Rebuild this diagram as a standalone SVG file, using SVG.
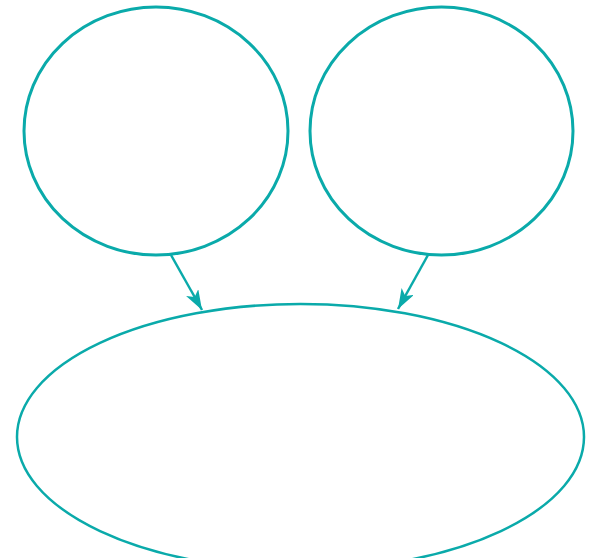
<svg xmlns="http://www.w3.org/2000/svg" width="595" height="558" viewBox="0 0 595 558">
<style>
.node{fill:none;stroke:#0aaaaa;}
.edge{stroke:#0aaaaa;stroke-width:2.5;fill:none;}
</style>
<defs>
<marker id="ah" viewBox="0 0 20 14" refX="20" refY="7" markerWidth="20" markerHeight="14" markerUnits="userSpaceOnUse" orient="auto">
<path d="M0,0 L20,7 L0,14 L5,7 Z" fill="#0aaaaa"/>
</marker>
</defs>
<rect width="595" height="558" fill="#ffffff"/>
<g id="node-a"><ellipse class="node" cx="156" cy="131" rx="132" ry="124" stroke-width="3"/></g>
<g id="node-b"><ellipse class="node" cx="441.5" cy="131" rx="131.5" ry="124" stroke-width="3"/></g>
<g id="node-c"><ellipse class="node" cx="300.5" cy="437" rx="283.5" ry="133" stroke-width="2.5"/></g>
<g id="connectors">
<line class="edge" x1="171" y1="255" x2="202" y2="310" marker-end="url(#ah)"/>
<line class="edge" x1="428" y1="255" x2="398" y2="309" marker-end="url(#ah)"/>
</g>
</svg>
